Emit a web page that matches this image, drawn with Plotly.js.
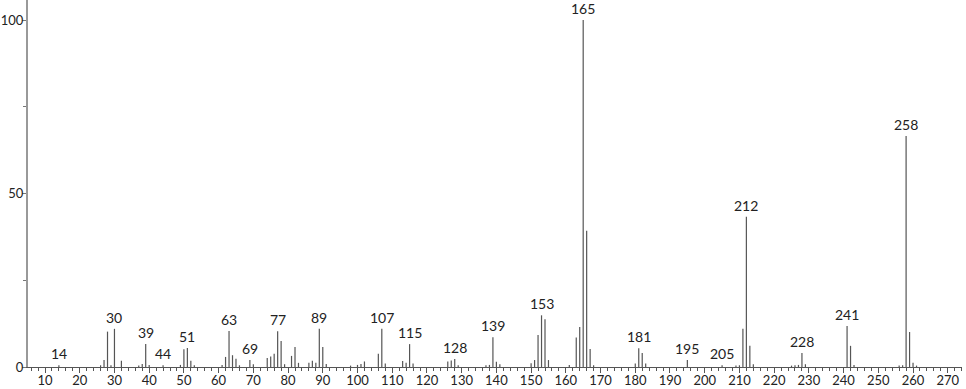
<!DOCTYPE html>
<html>
<head>
<meta charset="utf-8">
<script src="https://cdn.plot.ly/plotly-3.0.1.min.js"></script>
<style>html,body{margin:0;padding:0;background:#fff;}#chart{width:966px;height:389px;}</style>
</head>
<body>
<div id="chart"></div>
<script>
// m/z values and relative intensities
const mz = [14, 26, 27, 28, 29, 30, 32, 37, 38, 39, 40, 44, 49, 50, 51, 52, 53, 61, 62, 63, 64, 65, 66,
  69, 70, 74, 75, 76, 77, 78, 79, 81, 82, 83, 86, 87, 88, 89, 90, 91, 98, 100, 101, 102, 106, 107, 108,
  113, 114, 115, 116, 126, 127, 128, 129, 137, 138, 139, 140, 141, 150, 151, 152, 153, 154, 155, 161,
  163, 164, 165, 166, 167, 168, 180, 181, 182, 183, 195, 205, 209, 210, 211, 212, 213, 214, 225, 226,
  227, 228, 229, 241, 242, 243, 256, 257, 258, 259, 260, 261];
const intensity = [0.5, 0.5, 2.0, 10.2, 0.5, 11.0, 1.8, 0.4, 0.9, 6.6, 0.6, 0.5, 0.6, 5.1, 5.5, 1.8, 0.5, 0.6, 2.9, 10.4, 3.4, 2.4, 0.5,
  2.0, 0.8, 2.6, 3.0, 3.8, 10.3, 7.5, 0.8, 3.2, 5.8, 1.2, 1.2, 1.8, 1.2, 11.0, 5.8, 0.9, 0.4, 0.6, 0.9, 1.6, 3.8, 11.0, 1.0,
  1.7, 1.2, 6.6, 1.0, 1.6, 1.9, 2.3, 0.5, 0.5, 0.6, 8.6, 1.5, 0.8, 1.1, 2.0, 9.2, 14.9, 13.8, 2.0, 0.6,
  8.5, 11.5, 100, 39.3, 5.2, 0.5, 1.0, 5.4, 4.0, 1.0, 2.0, 0.5, 0.4, 0.5, 11.0, 43.3, 6.1, 0.8, 0.4, 0.5,
  0.6, 4.0, 0.8, 11.8, 6.1, 0.6, 0.4, 0.5, 66.6, 10.1, 1.2, 0.4];
// labelled peaks
const labelledMz = [14, 30, 39, 44, 51, 63, 69, 77, 89, 107, 115, 128, 139, 153, 165, 181, 195, 205, 212, 228, 241, 258];
const xTickVals = [10, 20, 30, 40, 50, 60, 70, 80, 90, 100, 110, 120, 130, 140, 150, 160, 170, 180, 190, 200, 210, 220, 230, 240, 250, 260, 270];
const yTickVals = [0, 50, 100];

const sx = [], sy = [];
mz.forEach((m, i) => { sx.push(m, m, null); sy.push(0, intensity[i], null); });

const trace = {
  type: 'scatter', mode: 'lines', x: sx, y: sy,
  line: {color: '#555', width: 1.2}, hoverinfo: 'skip', showlegend: false
};

const annotations = labelledMz.map(m => {
  const i = mz.indexOf(m);
  return {x: m, y: intensity[i], text: String(m), showarrow: false, xanchor: 'center', yanchor: 'bottom',
    yshift: 1, font: {family: 'Lato, sans-serif', size: 14, color: '#222'}};
});

const layout = {
  width: 966, height: 389,
  margin: {l: 28, r: 4, t: 0, b: 22, pad: 0},
  paper_bgcolor: '#fff', plot_bgcolor: '#fff',
  font: {family: 'Lato, sans-serif', size: 13, color: '#222'},
  showlegend: false,
  xaxis: {
    range: [5.1, 274.1], showgrid: false, zeroline: false,
    showline: true, linecolor: '#555', linewidth: 1,
    ticks: 'outside', ticklen: 5, tickcolor: '#555', tickwidth: 1,
    tickmode: 'array', tickvals: xTickVals, ticktext: xTickVals.map(String),
    tickfont: {size: 13, color: '#222'}, ticklabelstandoff: -4,
    minor: {dtick: 2, tick0: 0, ticks: 'outside', ticklen: 3, tickcolor: '#555', showgrid: false}
  },
  yaxis: {
    range: [0, 105.8], showgrid: false, zeroline: false,
    showline: true, linecolor: '#999', linewidth: 2,
    ticks: 'outside', ticklen: 4, tickcolor: '#777', tickwidth: 1,
    tickmode: 'array', tickvals: yTickVals, ticktext: yTickVals.map(String),
    tickfont: {size: 13, color: '#222'}, ticklabelstandoff: -4,
    minor: {dtick: 25, tick0: 0, ticks: 'outside', ticklen: 3, tickcolor: '#777', showgrid: false}
  },
  annotations: annotations
};

Plotly.newPlot('chart', [trace], layout, {displayModeBar: false, staticPlot: true});
</script>
</body>
</html>
